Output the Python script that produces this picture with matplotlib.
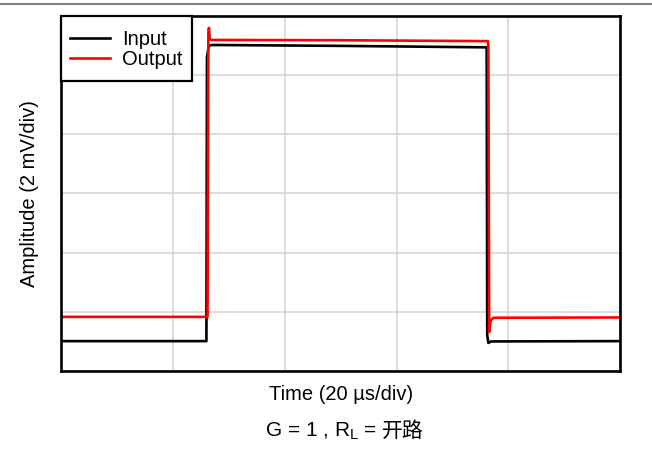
import matplotlib
matplotlib.use("Agg")
import matplotlib.pyplot as plt
from matplotlib.lines import Line2D
from matplotlib.patches import Rectangle
from matplotlib.offsetbox import TextArea, HPacker, AnchoredOffsetbox

# time in us (20 us/div), amplitude in mV (2 mV/div)
t_in = [0, 26.0, 26.1, 26.4, 26.9, 50, 76.1, 76.2, 76.4, 76.9, 100]
v_in = [-4.99, -4.99, 4.6, 4.98, 5.02, 4.99, 4.94, -4.8, -5.05, -5.0, -4.99]

t_out = [0, 26.2, 26.35, 26.45, 26.6, 27.0, 50, 76.3, 76.4, 76.55, 76.8, 77.3, 100]
v_out = [-4.17, -4.17, 5.4, 5.6, 5.22, 5.19, 5.18, 5.15, 5.0, -4.68, -4.3, -4.2, -4.19]

fig = plt.figure(figsize=(6.52, 4.49), dpi=100)
ax = fig.add_axes([0.0935, 0.1737, 0.858, 0.7907])

ax.plot(t_in, v_in, color="black", lw=1.9, label="Input")
ax.plot(t_out, v_out, color="red", lw=1.9, label="Output")

ax.set_xlim(0, 100)
ax.set_ylim(-6, 6)
ax.set_xticks(range(0, 101, 20))
ax.set_yticks(range(-6, 7, 2))
ax.tick_params(length=0, labelbottom=False, labelleft=False)
ax.grid(True, color="#d3d3d3", lw=1.1)
for s in ax.spines.values():
    s.set_linewidth(1.9)

font = "Liberation Sans"
ax.set_xlabel("Time (20 µs/div)", family=font, fontsize=14.5, labelpad=10)
ax.set_ylabel("Amplitude (2 mV/div)", family=font, fontsize=14.5, labelpad=16)

# legend box is taller than the default padding gives, so draw the frame separately
ax.add_patch(Rectangle((0, 1 - 0.183), 0.234, 0.183, transform=ax.transAxes,
                       facecolor="white", edgecolor="black", lw=1.6,
                       zorder=4.9, clip_on=False))
leg = ax.legend(loc="upper left", bbox_to_anchor=(0, 0.986),
                prop={"family": font, "size": 14.5}, frameon=False,
                borderaxespad=0, handlelength=2.0, handletextpad=0.6,
                labelspacing=0.05, borderpad=0.45)
leg.set_zorder(5)

# caption under the chart
part1 = TextArea("G = 1 , R$_\\mathregular{L}$ =",
                 textprops=dict(family=font, size=15))
part2 = TextArea("开路", textprops=dict(family="Noto Sans CJK SC", size=15))
cap = AnchoredOffsetbox(loc="center",
                        child=HPacker(children=[part1, part2], sep=3, align="baseline"),
                        bbox_to_anchor=(0.528, 0.04), bbox_transform=fig.transFigure,
                        frameon=False, pad=0, borderpad=0)
ax.add_artist(cap)

# grey rule along the top of the image
fig.add_artist(Line2D([0, 1], [0.9922, 0.9922], transform=fig.transFigure,
                      color="#808080", lw=1.5))

fig.savefig("out.png", dpi=100)
